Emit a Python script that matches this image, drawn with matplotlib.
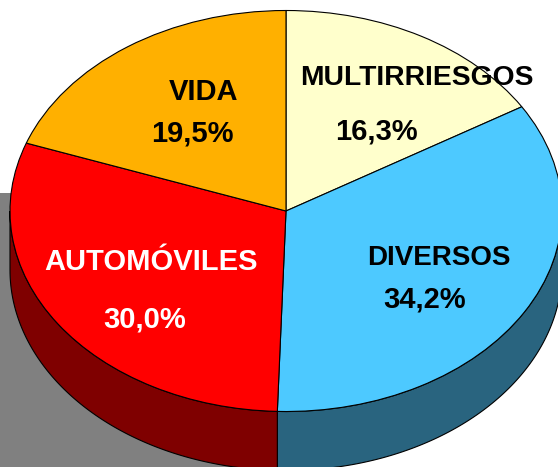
import numpy as np
import matplotlib
matplotlib.use("Agg")
import matplotlib.pyplot as plt

plt.rcParams['font.family'] = ['Liberation Sans', 'DejaVu Sans']

# Shares, clockwise from the top
categories = ['MULTIRRIESGOS', 'DIVERSOS', 'AUTOMÓVILES', 'VIDA']
shares = [16.3, 34.2, 30.0, 19.5]
percent_labels = ['16,3%', '34,2%', '30,0%', '19,5%']

top_colors = ['#FFFFCC', '#4DC9FF', '#FF0000', '#FFB000']
side_colors = ['#7F7F66', '#29647F', '#7F0000', '#7F5800']
text_colors = ['black', 'black', 'white', 'black']

# Pie geometry in image pixels
cx, cy = 286, 211
rx, ry = 276, 200.5
depth = 59
W, H = 558, 467


def px(x, y):
    return (x - cx) / rx, (cy - y) / ry


fig = plt.figure(figsize=(W / 100, H / 100), dpi=100)
ax = fig.add_axes([0, 0, 1, 1])

# Grey shadow behind the pie
x0, y0 = px(0, 193)
x1, y1 = px(285, H)
ax.fill_between([x0, x1], y1, y0, color='#808080', lw=0, zorder=0)

# Side wall: only the front half of the rim is visible
d = depth / ry
edges = np.cumsum([0] + shares) / 100 * 360
for i in range(len(shares)):
    a = max(edges[i], 90)
    b = min(edges[i + 1], 270)
    if b <= a:
        continue
    t = np.radians(np.linspace(a, b, 100))
    xs = np.sin(t)
    ys = np.cos(t)
    ax.fill(np.r_[xs, xs[::-1]], np.r_[ys, ys[::-1] - d],
            facecolor=side_colors[i], edgecolor='black', lw=0.8, zorder=1)

# Top face: a unit pie stretched to an ellipse by the axes limits
ax.pie(shares, colors=top_colors, startangle=90, counterclock=False,
       wedgeprops={'edgecolor': 'black', 'linewidth': 0.8, 'zorder': 2})
ax.set_aspect('auto')
ax.set_xlim(px(0, 0)[0], px(W, 0)[0])
ax.set_ylim(px(0, H)[1], px(0, 0)[1])
ax.axis('off')

# Label centres in pixels
name_pos = [(417, 78), (439, 258), (151, 262), (204, 92)]
pct_pos = [(376, 132), (425, 300), (145, 320), (192, 133)]
name_size = [20.3, 20, 21, 21]

for i in range(len(categories)):
    ax.text(*px(*name_pos[i]), categories[i], color=text_colors[i], fontsize=name_size[i],
            fontweight='bold', ha='center', va='center', zorder=5)
    ax.text(*px(*pct_pos[i]), percent_labels[i], color=text_colors[i], fontsize=21,
            fontweight='bold', ha='center', va='center', zorder=5)

plt.savefig("out.png", dpi=100)
